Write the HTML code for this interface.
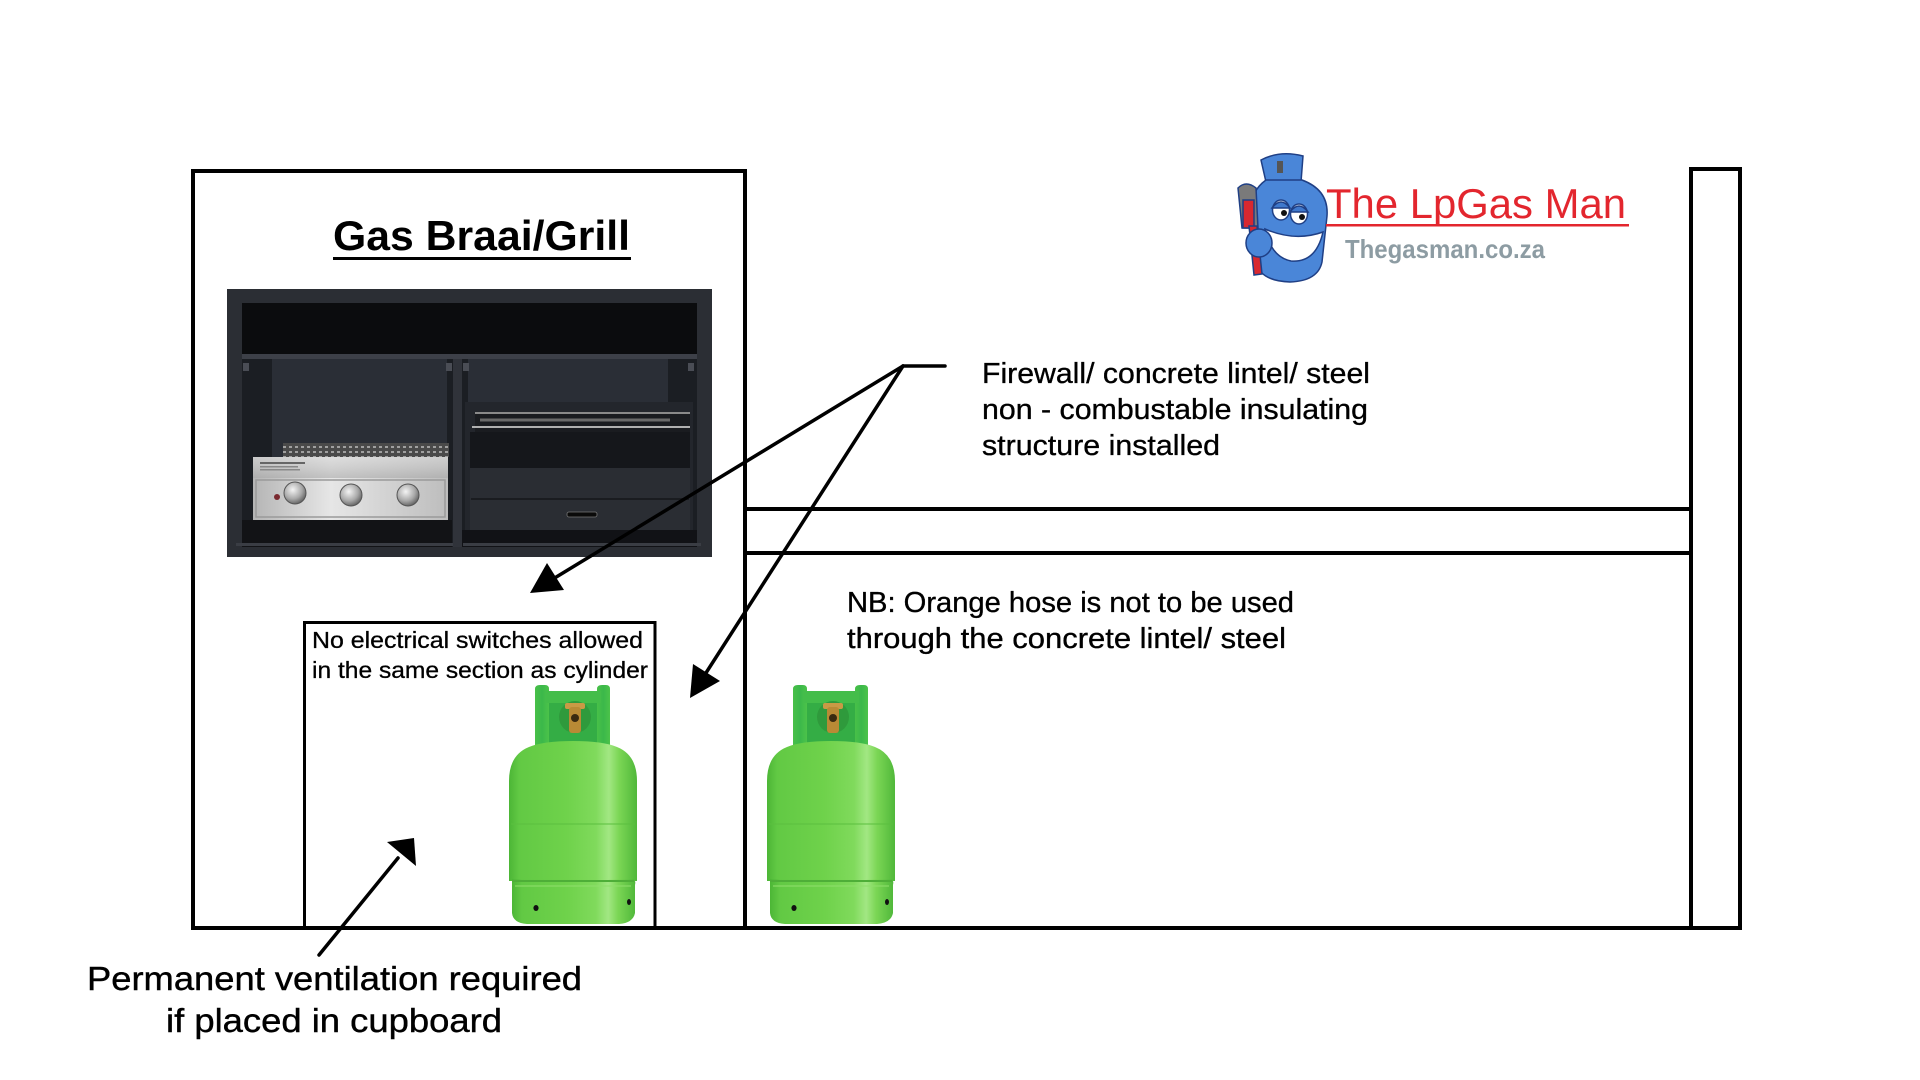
<!DOCTYPE html>
<html>
<head>
<meta charset="utf-8">
<style>
  html,body{margin:0;padding:0;background:#fff;}
  svg{display:block;}
  text{font-family:"Liberation Sans", "DejaVu Sans", sans-serif;}
</style>
</head>
<body>
<svg width="1920" height="1080" viewBox="0 0 1920 1080" xmlns="http://www.w3.org/2000/svg">
  <defs>
    <linearGradient id="cylG" x1="0" y1="0" x2="1" y2="0">
      <stop offset="0" stop-color="#4cb636"/>
      <stop offset="0.08" stop-color="#62c944"/>
      <stop offset="0.45" stop-color="#6fd24b"/>
      <stop offset="0.68" stop-color="#80da5c"/>
      <stop offset="0.78" stop-color="#a2e783"/>
      <stop offset="0.86" stop-color="#7bd655"/>
      <stop offset="1" stop-color="#50b83a"/>
    </linearGradient>
    <linearGradient id="collarG" x1="0" y1="0" x2="1" y2="0">
      <stop offset="0" stop-color="#48c048"/>
      <stop offset="0.5" stop-color="#3bb84a"/>
      <stop offset="1" stop-color="#4cc34a"/>
    </linearGradient>
    <linearGradient id="steelG" x1="0" y1="0" x2="0" y2="1">
      <stop offset="0" stop-color="#d9d9d9"/>
      <stop offset="0.5" stop-color="#c4c4c4"/>
      <stop offset="1" stop-color="#a9a9a9"/>
    </linearGradient>
    <linearGradient id="steelH" x1="0" y1="0" x2="1" y2="0">
      <stop offset="0" stop-color="#b5b5b5"/>
      <stop offset="0.4" stop-color="#e6e6e6"/>
      <stop offset="1" stop-color="#bdbdbd"/>
    </linearGradient>
    <radialGradient id="knobG" cx="0.4" cy="0.35" r="0.7">
      <stop offset="0" stop-color="#f4f4f4"/>
      <stop offset="0.6" stop-color="#a8a8a8"/>
      <stop offset="1" stop-color="#5a5a5a"/>
    </radialGradient>
    <pattern id="grate" x="0" y="0" width="6" height="5" patternUnits="userSpaceOnUse">
      <rect width="6" height="5" fill="#4a4a4a"/>
      <rect x="1" y="1" width="3" height="2" fill="#a0a0a0"/>
    </pattern>

    <g id="cyl">
      <rect x="30" y="6" width="68" height="54" fill="#34ad45"/>
      <path d="M26 4 Q26 0 31 0 L36 0 Q40 0 40 4 L40 60 L26 60 Z" fill="url(#collarG)"/>
      <path d="M88 4 Q88 0 93 0 L97 0 Q101 0 101 4 L101 60 L88 60 Z" fill="url(#collarG)"/>
      <rect x="36" y="6" width="56" height="12" fill="#44bd4a"/>
      <ellipse cx="66" cy="32" rx="16" ry="16" fill="#2f9a3c"/>
      <rect x="56" y="18" width="20" height="6" rx="2" fill="#c99a45"/>
      <rect x="60" y="22" width="12" height="26" rx="3" fill="#b98a35"/>
      <circle cx="66" cy="33" r="4" fill="#3a2a10"/>
      <path d="M20 62 Q34 56 64 56 Q94 56 108 62 Q128 70 128 96 L128 196 L0 196 L0 96 Q0 70 20 62 Z" fill="url(#cylG)"/>
      <line x1="2" y1="139" x2="126" y2="139" stroke="#5bbf3f" stroke-width="1"/>
      <path d="M3 194 L125 194 Q127 196 126 200 L126 228 Q124 238 110 239 L18 239 Q4 238 3 228 Z" fill="url(#cylG)"/>
      <line x1="3" y1="196" x2="125" y2="196" stroke="#4eae38" stroke-width="2"/>
      <line x1="6" y1="201" x2="122" y2="201" stroke="#8fdf6c" stroke-width="1.5" opacity="0.7"/>
      <ellipse cx="27" cy="223" rx="2.6" ry="3" fill="#111"/>
      <ellipse cx="120" cy="217" rx="2" ry="3" fill="#111"/>
    </g>
  </defs>

  <rect width="1920" height="1080" fill="#fff"/>

  <!-- Structure lines -->
  <rect x="193" y="171" width="552" height="757" fill="none" stroke="#000" stroke-width="4"/>
  <line x1="745" y1="928" x2="1742" y2="928" stroke="#000" stroke-width="4"/>
  <rect x="1691" y="169" width="49" height="759" fill="none" stroke="#000" stroke-width="4"/>
  <line x1="747" y1="509" x2="1691" y2="509" stroke="#000" stroke-width="4"/>
  <line x1="747" y1="553" x2="1691" y2="553" stroke="#000" stroke-width="4"/>

  <!-- Cupboard box -->
  <rect x="304.5" y="622.5" width="350.5" height="305.5" fill="none" stroke="#000" stroke-width="3"/>

  <!-- Title -->
  <text x="333" y="250" font-size="42" font-weight="bold" fill="#000" textLength="297" lengthAdjust="spacingAndGlyphs">Gas Braai/Grill</text>
  <rect x="333" y="257" width="298" height="3" fill="#000"/>

  <!-- Grill appliance -->
  <g>
    <rect x="227" y="289" width="485" height="268" fill="#2b2e34"/>
    <rect x="242" y="303" width="455" height="51" fill="#0b0c0e"/>
    <rect x="242" y="354" width="455" height="5" fill="#3d4048"/>
    <rect x="242" y="359" width="455" height="188" fill="#1b1e23"/>
    <rect x="272" y="359" width="175" height="160" fill="#2a2e36"/>
    <rect x="468" y="359" width="200" height="60" fill="#2a2e36"/>
    <rect x="453" y="359" width="9" height="188" fill="#30333a"/>
    <rect x="243" y="363" width="6" height="8" fill="#4a4d55"/>
    <rect x="446" y="363" width="6" height="8" fill="#4a4d55"/>
    <rect x="463" y="363" width="6" height="8" fill="#4a4d55"/>
    <rect x="688" y="363" width="6" height="8" fill="#4a4d55"/>
    <rect x="283" y="443" width="166" height="14" fill="url(#grate)"/>
    <rect x="253" y="457" width="195" height="63" fill="url(#steelH)"/>
    <rect x="253" y="457" width="195" height="21" fill="url(#steelG)" opacity="0.6"/>
    <rect x="260" y="462" width="45" height="2" fill="#666"/>
    <rect x="260" y="466" width="38" height="1.5" fill="#888"/>
    <rect x="260" y="469" width="40" height="1.5" fill="#888"/>
    <rect x="256" y="480" width="189" height="37" fill="none" stroke="#9a9a9a" stroke-width="1.5"/>
    <circle cx="277" cy="497" r="3" fill="#7a2a30"/>
    <circle cx="295" cy="493" r="11" fill="url(#knobG)" stroke="#555" stroke-width="1"/>
    <circle cx="351" cy="495" r="11" fill="url(#knobG)" stroke="#555" stroke-width="1"/>
    <circle cx="408" cy="495" r="11" fill="url(#knobG)" stroke="#555" stroke-width="1"/>
    <rect x="242" y="520" width="210" height="27" fill="#121316"/>
    <rect x="236" y="543" width="217" height="3" fill="#3a3d44"/>
    <rect x="465" y="402" width="228" height="130" fill="#23262c"/>
    <rect x="475" y="412" width="215" height="20" fill="#1a1c20"/>
    <line x1="475" y1="413" x2="690" y2="413" stroke="#8a8a8a" stroke-width="2"/>
    <line x1="472" y1="427" x2="690" y2="427" stroke="#b0b0b0" stroke-width="2"/>
    <line x1="480" y1="420" x2="670" y2="420" stroke="#6a6a6a" stroke-width="3"/>
    <rect x="470" y="432" width="220" height="36" fill="#15171b"/>
    <rect x="470" y="468" width="220" height="62" fill="#2a2d33"/>
    <line x1="471" y1="499" x2="689" y2="499" stroke="#1a1c20" stroke-width="2"/>
    <rect x="567" y="512" width="30" height="5" rx="2" fill="#0a0a0a" stroke="#777" stroke-width="0.8"/>
    <rect x="462" y="530" width="235" height="17" fill="#111216"/>
    <rect x="463" y="543" width="238" height="3" fill="#3a3d44"/>
  </g>

  <!-- Cupboard text -->
  <text x="312" y="648" font-size="23" fill="#000" stroke="#000" stroke-width="0.3" textLength="331" lengthAdjust="spacingAndGlyphs">No electrical switches allowed</text>
  <text x="312" y="678" font-size="23" fill="#000" stroke="#000" stroke-width="0.3" textLength="336" lengthAdjust="spacingAndGlyphs">in the same section as cylinder</text>

  <!-- Cylinders -->
  <use href="#cyl" x="509" y="685"/>
  <use href="#cyl" x="767" y="685"/>

  <!-- Arrows -->
  <g stroke="#000" stroke-width="3.5" fill="none" stroke-linecap="round">
    <line x1="903" y1="366" x2="945" y2="366"/>
    <line x1="903" y1="366" x2="553" y2="579"/>
    <line x1="903" y1="366" x2="704" y2="676"/>
    <line x1="319" y1="955" x2="398" y2="858"/>
  </g>
  <polygon points="530,593 564,590 547,563" fill="#000"/>
  <polygon points="690,698 720,681 693,664" fill="#000"/>
  <polygon points="414,838 387,842 416,866" fill="#000"/>

  <!-- Firewall text -->
  <text x="982" y="383" font-size="29" fill="#000" stroke="#000" stroke-width="0.35" textLength="388" lengthAdjust="spacingAndGlyphs">Firewall/ concrete lintel/ steel</text>
  <text x="982" y="419" font-size="29" fill="#000" stroke="#000" stroke-width="0.35" textLength="386" lengthAdjust="spacingAndGlyphs">non - combustable insulating</text>
  <text x="982" y="455" font-size="29" fill="#000" stroke="#000" stroke-width="0.35" textLength="238" lengthAdjust="spacingAndGlyphs">structure installed</text>

  <!-- NB text -->
  <text x="847" y="612" font-size="29" fill="#000" stroke="#000" stroke-width="0.35" textLength="447" lengthAdjust="spacingAndGlyphs">NB: Orange hose is not to be used</text>
  <text x="847" y="648" font-size="29" fill="#000" stroke="#000" stroke-width="0.35" textLength="439" lengthAdjust="spacingAndGlyphs">through the concrete lintel/ steel</text>

  <!-- Ventilation text -->
  <text x="87" y="990" font-size="33" fill="#000" stroke="#000" stroke-width="0.4" textLength="495" lengthAdjust="spacingAndGlyphs">Permanent ventilation required</text>
  <text x="166" y="1032" font-size="33" fill="#000" stroke="#000" stroke-width="0.4" textLength="336" lengthAdjust="spacingAndGlyphs">if placed in cupboard</text>

  <!-- Logo mascot -->
  <g stroke="#1f3f85" stroke-width="1.5">
    <path d="M1261 160 Q1280 150 1303 156 L1301 182 L1266 182 Z" fill="#4a86d8"/>
    <rect x="1277" y="161" width="6" height="12" fill="#555" stroke="none"/>
    <path d="M1266 180 Q1249 192 1251 216 L1256 262 Q1260 281 1290 282 Q1318 281 1322 262 L1327 216 Q1329 190 1302 180 Z" fill="#4a86d8"/>
    <ellipse cx="1281" cy="210" rx="8.5" ry="10" fill="#fff"/>
    <ellipse cx="1299" cy="214" rx="8.5" ry="10" fill="#fff"/>
    <path d="M1272 208 Q1281 196 1290 208 Z" fill="#3f78cc"/>
    <path d="M1290 212 Q1299 200 1308 212 Z" fill="#3f78cc"/>
    <circle cx="1284" cy="213" r="3" fill="#111" stroke="none"/>
    <circle cx="1302" cy="217" r="3" fill="#111" stroke="none"/>
    <path d="M1265 229 Q1295 242 1323 232 Q1316 263 1291 261 Q1271 257 1265 229 Z" fill="#fff"/>
    <path d="M1238 188 Q1246 180 1256 188 L1258 228 L1242 228 Z" fill="#7a7a7a"/>
    <rect x="1243" y="200" width="11" height="28" fill="#d8282f"/>
    <path d="M1249 226 L1257 226 L1262 274 L1254 275 Z" fill="#d8282f"/>
    <ellipse cx="1259" cy="243" rx="13" ry="14" fill="#4a86d8"/>
  </g>

  <!-- Logo text -->
  <text x="1326" y="218" font-size="42" fill="#e3262e" textLength="300" lengthAdjust="spacingAndGlyphs">The LpGas Man</text>
  <rect x="1326" y="224" width="303" height="2.5" fill="#e3262e"/>
  <text x="1345" y="258" font-size="26" font-weight="bold" fill="#8d9ca3" textLength="200" lengthAdjust="spacingAndGlyphs">Thegasman.co.za</text>
</svg>
</body>
</html>
